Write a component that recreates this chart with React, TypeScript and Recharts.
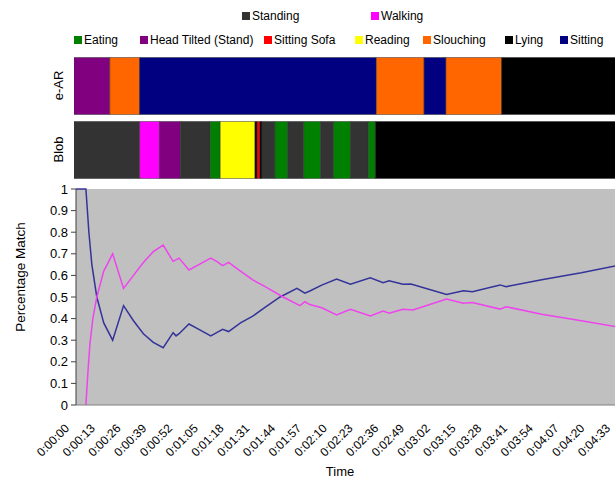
import React from 'react';
import { BarChart, Bar, Cell, XAxis, YAxis, LineChart, Line, CartesianGrid } from 'recharts';

// activity colours (Excel default palette)
const ACTIVITY_COLORS: Record<string, string> = {
  Standing: '#333333',
  Walking: '#FF00FF',
  Eating: '#008000',
  'Head Tilted (Stand)': '#800080',
  'Sitting Sofa': '#FF0000',
  Reading: '#FFFF00',
  Slouching: '#FF6600',
  Lying: '#000000',
  Sitting: '#000080',
};

const legendRow1 = ['Standing', 'Walking'];
const legendRow2 = ['Eating', 'Head Tilted (Stand)', 'Sitting Sofa', 'Reading', 'Slouching', 'Lying', 'Sitting'];

// segment sequences, durations in seconds
const earActivities = ['Head Tilted (Stand)', 'Slouching', 'Sitting', 'Slouching', 'Sitting', 'Slouching', 'Lying'];
const earDurations = [18, 15, 119, 24, 11, 28, 58];

const blobActivities = [
  'Standing', 'Walking', 'Head Tilted (Stand)', 'Standing', 'Eating', 'Reading', 'Lying', 'Sitting Sofa', 'Lying',
  'Standing', 'Eating', 'Standing', 'Eating', 'Standing', 'Eating', 'Standing', 'Eating', 'Lying',
];
const blobDurations = [33, 10, 10.5, 15, 5, 17.5, 1, 1.5, 1, 6.5, 6.5, 8, 8.5, 6.5, 8.5, 9, 3.5, 121.5];

// percentage match over time
const blueTime = [0, 5, 6.5, 8, 10.5, 14, 18.5, 24, 29, 34, 39, 44, 49, 50.5, 52, 57, 62, 68, 71, 74, 77, 83, 89, 95, 103, 111.5, 115.5, 118, 124, 131.5, 138.5, 148.5, 155, 158, 165, 169, 187, 195.5, 200, 214, 217, 235, 255, 273];
const blueValue = [1, 1, 0.8, 0.65, 0.5, 0.38, 0.3, 0.46, 0.39, 0.33, 0.29, 0.265, 0.335, 0.32, 0.33, 0.375, 0.35, 0.32, 0.335, 0.35, 0.34, 0.38, 0.41, 0.45, 0.5, 0.54, 0.518, 0.528, 0.555, 0.583, 0.559, 0.589, 0.566, 0.575, 0.559, 0.56, 0.512, 0.529, 0.524, 0.556, 0.548, 0.58, 0.612, 0.645];

const magentaTime = [5, 6, 7, 8.5, 10.5, 14, 18.5, 24, 29, 34, 39, 44, 49, 52, 57, 62, 68, 71, 74, 77, 83, 89, 95, 104.5, 113, 115.5, 118, 124, 131.5, 138.5, 148.5, 155, 158, 165, 170, 187, 195.5, 200, 214, 217, 235, 255, 273];
const magentaValue = [0, 0.15, 0.28, 0.4, 0.5, 0.62, 0.7, 0.54, 0.6, 0.66, 0.71, 0.74, 0.665, 0.68, 0.625, 0.65, 0.68, 0.665, 0.645, 0.66, 0.62, 0.58, 0.55, 0.5, 0.46, 0.478, 0.465, 0.45, 0.417, 0.443, 0.412, 0.435, 0.425, 0.443, 0.44, 0.491, 0.471, 0.475, 0.444, 0.455, 0.42, 0.39, 0.362];

const timeTicks = [0, 13, 26, 39, 52, 65, 78, 91, 104, 117, 130, 143, 156, 169, 182, 195, 208, 221, 234, 247, 260, 273];
const pctTicks = [0, 0.1, 0.2, 0.3, 0.4, 0.5, 0.6, 0.7, 0.8, 0.9, 1];

const FONT = '"Liberation Sans", Arial, sans-serif';
const TOTAL = 273;

const pad = (n: number) => String(n).padStart(2, '0');
const fmtTime = (s: number) => `${Math.floor(s / 3600)}:${pad(Math.floor(s / 60) % 60)}:${pad(s % 60)}`;

const rows = [
  { name: 'e-AR', acts: earActivities, durs: earDurations },
  { name: 'Blob', acts: blobActivities, durs: blobDurations },
];
const segCount = Math.max(...rows.map(r => r.durs.length));
const barData = rows.map(r => {
  const o: Record<string, any> = { name: r.name };
  r.durs.forEach((d, i) => { o['s' + i] = d; });
  return o;
});

const blueData = blueTime.map((t, i) => ({ t, v: blueValue[i] }));
const magentaData = magentaTime.map((t, i) => ({ t, v: magentaValue[i] }));

// legend x positions
const legendLeft1 = [242, 371];
const legendLeft2 = [74, 140, 264, 355, 423, 505, 560];

const LegendItem = ({ name, left, top }: { name: string; left: number; top: number }) => (
  <div style={{ position: 'absolute', left, top, display: 'flex', alignItems: 'center', fontSize: 12, whiteSpace: 'nowrap', lineHeight: '14px' }}>
    <span style={{ display: 'inline-block', width: 8, height: 8, background: ACTIVITY_COLORS[name], marginRight: 2 }} />
    <span>{name}</span>
  </div>
);

const RowTick = ({ y, payload }: any) => (
  <text x={0} y={0} transform={`translate(63, ${y}) rotate(-90)`} textAnchor="middle" fontSize={13} fontFamily={FONT} fill="#000">
    {payload.value}
  </text>
);

const TimeTick = ({ x, y, payload }: any) => (
  <text x={0} y={0} transform={`translate(${x - 6}, ${y + 24}) rotate(-45)`} textAnchor="end" fontSize={12} fontFamily={FONT} fill="#000">
    {fmtTime(payload.value)}
  </text>
);

export default function App() {
  return (
    <div style={{ position: 'absolute', left: 0, top: 0, width: 615, height: 480, overflow: 'hidden', background: '#fff', fontFamily: FONT }}>
      {legendRow1.map((n, i) => <LegendItem key={n} name={n} left={legendLeft1[i]} top={9} />)}
      {legendRow2.map((n, i) => <LegendItem key={n} name={n} left={legendLeft2[i]} top={33} />)}

      <div style={{ position: 'absolute', left: 0, top: 50 }}>
        <BarChart width={640} height={135} data={barData} layout="vertical" barSize={57}
          margin={{ top: 3.5, right: 23, left: 0, bottom: 3.5 }}>
          <XAxis type="number" domain={[0, TOTAL]} hide allowDataOverflow />
          <YAxis type="category" dataKey="name" width={74} axisLine={false} tickLine={false} tick={<RowTick />} />
          {Array.from({ length: segCount }).map((_, i) => (
            <Bar key={i} dataKey={'s' + i} stackId="seg" isAnimationActive={false} stroke="#333" strokeWidth={0.5}>
              {rows.map((r, j) => (
                <Cell key={j} fill={r.acts[i] ? ACTIVITY_COLORS[r.acts[i]] : 'none'} />
              ))}
            </Bar>
          ))}
        </BarChart>
      </div>

      <div style={{ position: 'absolute', left: 0, top: 180 }}>
        <LineChart width={640} height={300} margin={{ top: 9, right: 23, left: 0, bottom: 15 }}>
          <CartesianGrid horizontal={false} vertical={false} fill="#C0C0C0" stroke="none" />
          <XAxis type="number" dataKey="t" domain={[0, TOTAL]} ticks={timeTicks} interval={0} height={60}
            allowDataOverflow tickLine={false} tickSize={0} tickMargin={0} stroke="#808080" tick={<TimeTick />} />
          <YAxis type="number" domain={[0, 1]} ticks={pctTicks} width={76} interval={0} stroke="#404040"
            tickSize={5} tickMargin={3} tickFormatter={(v: number) => (v === 0 || v === 1 ? String(v) : v.toFixed(1))}
            tick={{ fontSize: 13, fill: '#000', fontFamily: FONT }} />
          <Line data={blueData} dataKey="v" type="linear" stroke="#333399" strokeWidth={1.5} dot={false} isAnimationActive={false} />
          <Line data={magentaData} dataKey="v" type="linear" stroke="#EE44EE" strokeWidth={1.5} dot={false} isAnimationActive={false} />
        </LineChart>
      </div>

      <div style={{ position: 'absolute', left: 20, top: 277, transform: 'translate(-50%, -50%) rotate(-90deg)', fontSize: 13.5, whiteSpace: 'nowrap' }}>
        Percentage Match
      </div>
      <div style={{ position: 'absolute', left: 340, top: 471, transform: 'translate(-50%, -50%)', fontSize: 13 }}>
        Time
      </div>
    </div>
  );
}
